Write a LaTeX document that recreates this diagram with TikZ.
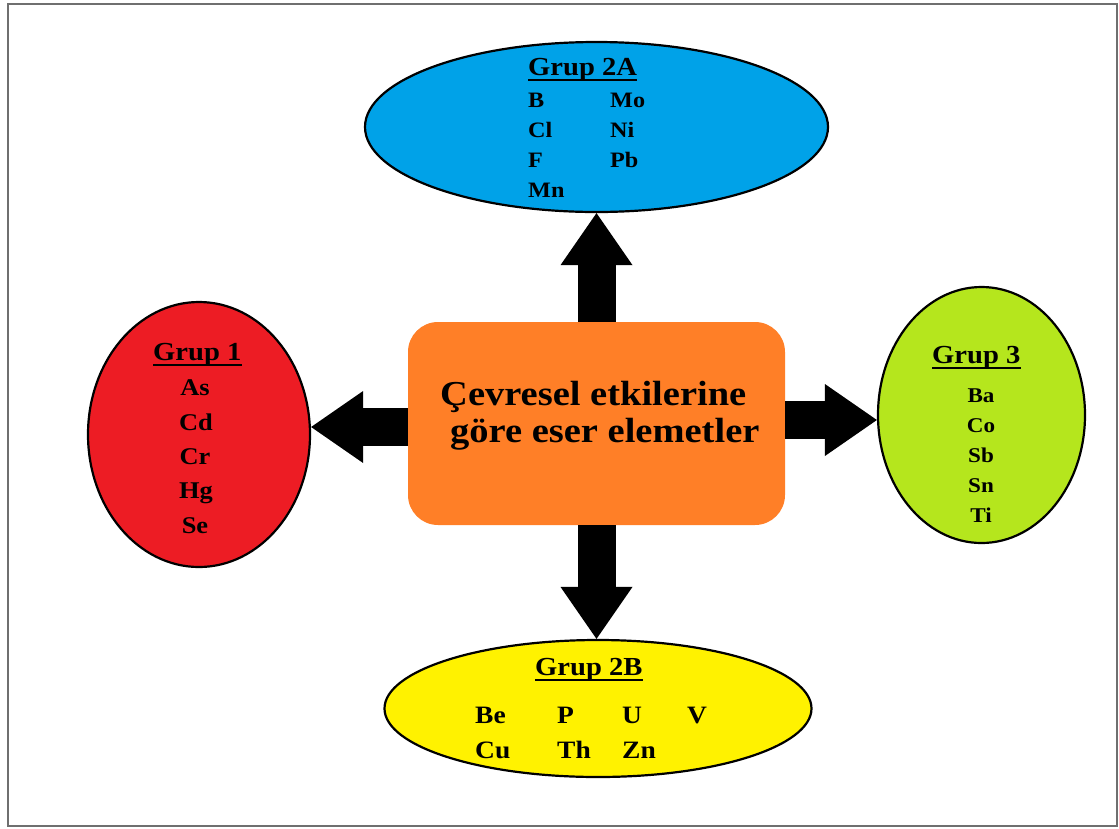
\documentclass[tikz,border=0pt]{standalone}
\usepackage{fontspec}
\setmainfont{Liberation Serif}[FakeStretch=1.1]
\usetikzlibrary{shapes.geometric,arrows.meta}
\definecolor{cblue}{HTML}{00A2E8}
\definecolor{cred}{HTML}{ED1C24}
\definecolor{cgreen}{HTML}{B5E61D}
\definecolor{cyel}{HTML}{FFF200}
\definecolor{corange}{HTML}{FF7F27}
\definecolor{frame}{HTML}{6F6F6F}
\tikzset{
  grp/.style={ellipse, draw=black, line width=2.2pt, inner sep=0pt},
  bigarrow/.style={line width=38pt, -{Triangle[width=72pt,length=52pt,line width=0pt]}},
  ttl/.style={font=\fontsize{26}{26}\bfseries\selectfont, inner sep=0pt, anchor=base west},
  ul/.style={line width=2pt},
  elw/.style={font=\fontsize{#1}{#1}\bfseries\selectfont, inner sep=0pt, anchor=base west},
  elc/.style={font=\fontsize{#1}{#1}\bfseries\selectfont, inner sep=0pt, anchor=base},
  big/.style={font=\fontsize{35}{35}\bfseries\selectfont, inner sep=0pt, anchor=base west},
}
\begin{document}
\begin{tikzpicture}[x=1pt,y=-1pt]
\useasboundingbox (0,0) rectangle (1119,828);
\draw[frame, line width=2.5pt] (8,4) rectangle (1117,826);

% group shapes
\node[grp, fill=cblue, minimum width=463pt, minimum height=170pt] (g2a) at (596.5,127) {};
\node[grp, fill=cyel, minimum width=427pt, minimum height=137pt] (g2b) at (598,708.5) {};
\node[grp, fill=cred, minimum width=222pt, minimum height=265pt] (g1) at (199,434.5) {};
\node[grp, fill=cgreen, minimum width=207pt, minimum height=256pt] (g3) at (981.5,415) {};

% central box
\node[fill=corange, rounded corners=30pt, minimum width=377pt, minimum height=203pt, inner sep=0pt] (box) at (596.5,423.5) {};

% arrows
\draw[bigarrow] (box.north) -- (box.north |- g2a.south);
\draw[bigarrow] (box.south) -- (box.south |- g2b.north);
\draw[bigarrow] ([yshift=-3.5pt]box.west) -- ([yshift=-3.5pt]box.west -| g1.east);
\draw[bigarrow] ([yshift=3.5pt]box.east) -- ([yshift=3.5pt]box.east -| g3.west);

% central title
\node[big] (c1) at (440,405) {Çevresel etkilerine};
\node[big] (c2) at (450,442) {göre eser elemetler};

% Grup 2A
\node[ttl] (t2a) at (528,75) {Grup 2A};
\draw[ul] ([yshift=-5pt]t2a.base west) -- ([yshift=-5pt]t2a.base east);
\node[elw=22] (e2a1) at (528,107) {B};
\node[elw=22] (e2a2) at (610,107) {Mo};
\node[elw=22] (e2a3) at (528,137) {Cl};
\node[elw=22] (e2a4) at (610,137) {Ni};
\node[elw=22] (e2a5) at (528,167) {F};
\node[elw=22] (e2a6) at (610,167) {Pb};
\node[elw=22] (e2a7) at (528,197) {Mn};

% Grup 1
\node[ttl] (t1) at (153,360) {Grup 1};
\draw[ul] ([yshift=-4.5pt]t1.base west) -- ([yshift=-4.5pt]t1.base east);
\node[elc=24] (e11) at (195,395) {As};
\node[elc=24] (e12) at (196,430) {Cd};
\node[elc=24] (e13) at (195,464) {Cr};
\node[elc=24] (e14) at (196,498) {Hg};
\node[elc=24] (e15) at (195,533) {Se};

% Grup 3
\node[ttl] (t3) at (932,363) {Grup 3};
\draw[ul] ([yshift=-4.5pt]t3.base west) -- ([yshift=-4.5pt]t3.base east);
\node[elc=21] (e31) at (981,402) {Ba};
\node[elc=21] (e32) at (981,432) {Co};
\node[elc=21] (e33) at (981,462) {Sb};
\node[elc=21] (e34) at (981,492) {Sn};
\node[elc=21] (e35) at (981,522) {Ti};

% Grup 2B
\node[ttl] (t2b) at (535,675) {Grup 2B};
\draw[ul] ([yshift=-5pt]t2b.base west) -- ([yshift=-5pt]t2b.base east);
\node[elw=25] (e2b1) at (475,723) {Be};
\node[elw=25] (e2b2) at (557,723) {P};
\node[elw=25] (e2b3) at (622,723) {U};
\node[elw=25] (e2b4) at (687,723) {V};
\node[elw=25] (e2b5) at (475,758) {Cu};
\node[elw=25] (e2b6) at (557,758) {Th};
\node[elw=25] (e2b7) at (622,758) {Zn};
\end{tikzpicture}
\end{document}
